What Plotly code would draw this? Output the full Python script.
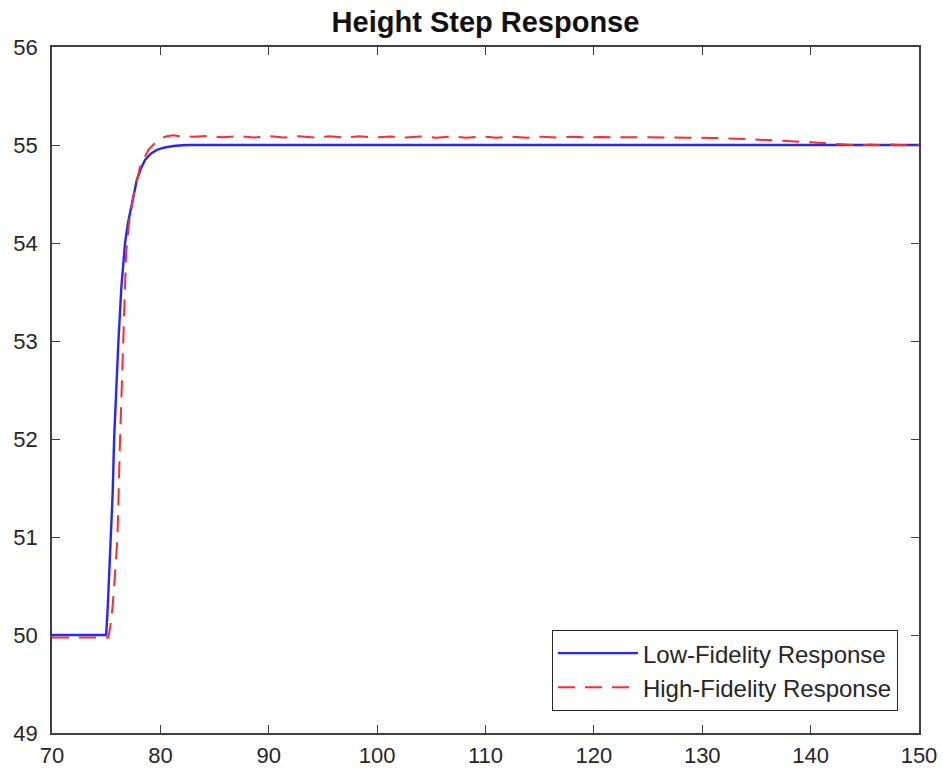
import plotly.graph_objects as go

# Low-fidelity model response (time, height)
t_low = [70, 75.0, 75.15, 75.3, 75.45, 75.6, 75.73, 75.9, 76.13, 76.4, 76.59, 76.74,
         77.0, 77.2, 77.5, 77.82, 78.2, 78.6, 79.1, 79.67, 80.4, 81.2, 82.0, 82.75, 150]
h_low = [50, 50, 50.3, 50.65, 51.0, 51.45, 52.0, 52.45, 53.0, 53.55, 53.83, 54.0,
         54.2, 54.3, 54.46, 54.64, 54.76, 54.85, 54.91, 54.95, 54.975, 54.99, 54.997, 55.0, 55.0]

# High-fidelity model response (time, height)
t_high = [70, 75.2, 75.4, 75.6, 75.8, 76.04, 76.28, 76.59, 76.84, 77.1, 77.5,
          78.13, 78.9, 79.5, 80.1, 80.6, 81.2, 81.8,
          83.05, 84.4, 85.8, 87.2, 88.6, 90.0, 91.4, 92.8, 94.2, 95.6, 97.0,
          98.4, 99.8, 101.2, 102.6, 104.0, 105.4, 106.8, 108.2, 109.6, 111.0,
          112.4, 113.8, 115.2, 116.6, 118.0, 119.4, 120.8,
          122.0, 125.0, 128.0, 131.0, 134.0, 136.0, 138.0, 140.0, 142.0,
          143.5, 144.5, 145.5, 146.5, 147.5, 148.5, 149.5, 150.0]
h_high = [49.975, 49.975, 50.1, 50.3, 50.6, 51.0, 52.0, 53.0, 53.9, 54.2, 54.47,
          54.78, 54.95, 55.02, 55.07, 55.09, 55.10, 55.09,
          55.085, 55.094, 55.078, 55.091, 55.077, 55.09, 55.076, 55.09, 55.076, 55.089, 55.076,
          55.089, 55.076, 55.088, 55.076, 55.088, 55.075, 55.087, 55.075, 55.087, 55.075,
          55.086, 55.075, 55.085, 55.075, 55.084, 55.076, 55.082,
          55.078, 55.078, 55.077, 55.072, 55.062, 55.052, 55.04, 55.027, 55.013,
          55.003, 54.995, 55.005, 54.997, 55.005, 54.997, 55.004, 55.0]

x_ticks = [70, 80, 90, 100, 110, 120, 130, 140, 150]
y_ticks = [49, 50, 51, 52, 53, 54, 55, 56]

FONT = "Liberation Sans, Arial, Helvetica, sans-serif"
AXIS_COLOR = "#404040"

fig = go.Figure()
fig.add_trace(go.Scatter(
    x=t_low, y=h_low, mode="lines", name="Low-Fidelity Response",
    line=dict(color="#2626ff", width=2.4),
))
fig.add_trace(go.Scatter(
    x=t_high, y=h_high, mode="lines", name="High-Fidelity Response",
    line=dict(color="#ff2a2a", width=2, dash="17px,10px"),
))

axis_common = dict(
    showgrid=False, zeroline=False, automargin=False,
    showline=True, linecolor=AXIS_COLOR, linewidth=1.5, mirror="ticks",
    ticks="inside", ticklen=8, tickwidth=1.2, tickcolor=AXIS_COLOR,
    tickfont=dict(family=FONT, size=22, color="#262626"),
)

fig.update_xaxes(range=[70, 150], tickvals=x_ticks, ticklabelstandoff=2, **axis_common)
fig.update_yaxes(range=[49, 56], tickvals=y_ticks, ticklabelstandoff=8, **axis_common)

fig.update_layout(
    width=943, height=776,
    margin=dict(l=52, r=24, t=47, b=43, autoexpand=False),
    paper_bgcolor="white", plot_bgcolor="white",
    title=dict(
        text="<b>Height Step Response</b>",
        font=dict(family=FONT, size=29, color="#111111"),
        x=0.5, xanchor="center", xref="paper",
        y=1 - 22 / 776, yanchor="middle", yref="container",
        automargin=False,
    ),
    legend=dict(
        x=0.9757, xanchor="right", y=0.032, yanchor="bottom",
        bgcolor="white", bordercolor="#262626", borderwidth=1,
        font=dict(family=FONT, size=24, color="#262626"),
        itemwidth=80, tracegroupgap=0,
    ),
    showlegend=True,
)

fig.write_html("out.html")
